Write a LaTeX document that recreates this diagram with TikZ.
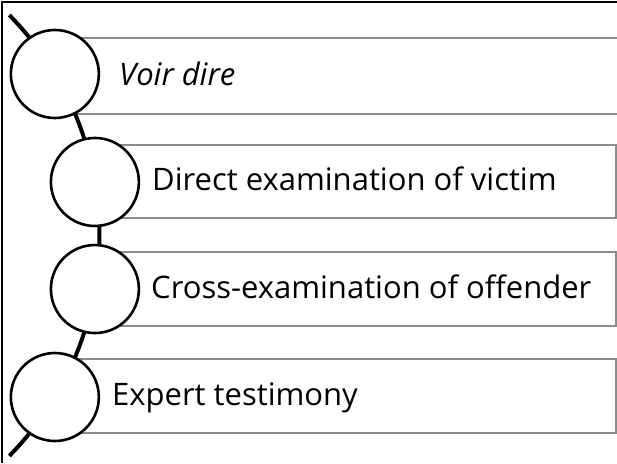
\documentclass[tikz,border=0pt]{standalone}
\usepackage{fontspec}
\setmainfont[Ligatures=NoCommon]{Open Sans}
\usetikzlibrary{shadows}
\begin{document}
\begin{tikzpicture}[x=1pt,y=-1pt,
  itembox/.style={draw=black!45,line width=1.6pt,fill=white,
    drop shadow={shadow xshift=0.6pt,shadow yshift=-1.4pt,opacity=0.35}},
  bead/.style={circle,draw=black,line width=2.6pt,fill=white,minimum size=88pt,inner sep=0pt},
  label/.style={anchor=base west,font=\fontsize{31}{37}\selectfont,inner sep=0pt}]
\useasboundingbox (0,0) rectangle (617,463);
\clip (0,0) rectangle (617,463);
% boxes
\node[itembox,minimum width=600pt,minimum height=76pt,anchor=north west,inner sep=0pt] (b1) at (55,37) {};
\node[itembox,minimum width=521pt,minimum height=73pt,anchor=north west,inner sep=0pt] (b2) at (94,144) {};
\node[itembox,minimum width=519pt,minimum height=74pt,anchor=north west,inner sep=0pt] (b3) at (96,251) {};
\node[itembox,minimum width=560pt,minimum height=74pt,anchor=north west,inner sep=0pt] (b4) at (55,358) {};
% connector arc
\coordinate (top) at ([shift={(-44.5:314.5)}]-215,235.5);
\draw[line width=4pt] (top) arc[start angle=-44.5,end angle=44.5,radius=314.5];
% circles
\node[bead] (c1) at ([shift={(-30.9:314.5)}]-215,235.5) {};
\node[bead] (c2) at ([shift={(-9.8:314.5)}]-215,235.5) {};
\node[bead] (c3) at ([shift={(9.8:314.5)}]-215,235.5) {};
\node[bead] (c4) at ([shift={(30.9:314.5)}]-215,235.5) {};
% labels
\node[label] (t1) at (119,85) {\itshape Voir dire};
\node[label] (t2) at (152,190) {Direct examination of victim};
\node[label] (t3) at (151,298) {Cross-examination of offender};
\node[label] (t4) at (112,405) {Expert testimony};
% frame
\draw[line width=2.5pt] (2,463) -- (2,2) -- (617,2);
\end{tikzpicture}
\end{document}
